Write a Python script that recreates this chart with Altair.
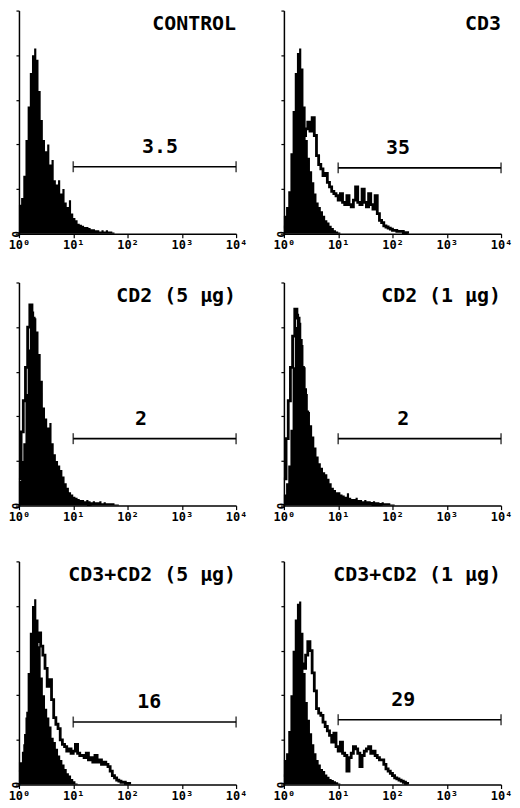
import altair as alt
import pandas as pd

# bin width of the histograms, in decades of fluorescence (log10 units)
BIN = 0.04

titles = ["CONTROL", "CD3", "CD2 (5 μg)", "CD2 (1 μg)", "CD3+CD2 (5 μg)", "CD3+CD2 (1 μg)"]
gate_pct = ["3.5", "35", "2", "2", "16", "29"]
gate_label_u = [2.6, 2.1, 2.25, 2.2, 2.4, 2.2]
gate_level = [30, 29.5, 30, 30, 28, 29]
gate_from = 1
gate_to = 4

# filled (control) histograms, % of full scale, bins starting at log10 = 0
ctrl1 = [13, 16, 26, 42, 57, 72, 80, 83, 78, 64, 51, 42, 37, 40, 31, 33, 24, 22, 24, 18,
         20, 14, 12, 15, 9, 7, 6, 4.5, 4, 3.5, 3, 3, 2.5, 2, 2, 1.5, 1.5, 1, 1.5, 1,
         1.5, 1, 1, 0.5, 0]
ctrl2 = [8, 12, 19, 36, 55, 72, 81, 83, 74, 57, 42, 34, 28, 23, 18, 14, 12, 10, 8, 6,
         5, 3.5, 2.5, 1.5, 1, 0.5, 0]
ctrl3 = [11, 20, 28, 50, 70, 84, 87, 84, 78, 68, 56, 44, 39, 35, 37, 28, 23, 20, 18, 16,
         13, 10, 8, 6, 5, 4, 3.5, 3, 2.5, 2.5, 2, 2.5, 2, 1.5, 2, 1.5, 1.5, 2, 1, 1.5,
         1, 1, 1, 1, 0.5, 0.5, 0]
ctrl4 = [5, 10, 18, 34, 62, 80, 86, 82, 72, 62, 50, 42, 36, 31, 26, 22, 19, 17, 15, 14,
         12, 10, 8, 7, 6, 6, 5, 4.5, 4, 5.5, 3.5, 3, 3, 3.5, 2.5, 2.5, 2, 2.5, 2, 2,
         1.5, 2, 1.5, 1.5, 1, 1.5, 1, 1, 1, 0.5, 0.5, 0]
ctrl5 = [10, 10, 18, 30, 50, 68, 80, 83, 74, 62, 48, 40, 34, 30, 26, 21, 19, 16, 13, 11,
         9, 7, 5, 4, 2.5, 1.5, 0.5, 0]
ctrl6 = [11, 14, 24, 40, 60, 74, 81, 82, 68, 50, 37, 29, 23, 18, 14, 11, 9, 7, 6, 4.5,
         3.5, 2.5, 2, 1.5, 1, 0.5, 0]

# outline (stimulated) histograms
stim2 = [3, 6, 10, 15, 21, 27, 33, 38, 42, 44, 47, 50, 46, 52, 44, 35, 31, 29, 26, 27,
         23, 21, 19, 18, 17, 15, 18, 14, 13, 17, 13, 12, 15, 21, 14, 13, 20, 14, 12, 18,
         13, 11, 17, 9, 6, 5, 3.5, 3, 2.5, 2, 1.5, 1.5, 1, 1, 1, 0.5, 0.5, 0]
stim3 = [12, 33, 47, 62, 80, 90, 84, 72, 60, 50, 40, 34, 30, 26, 22, 18, 15, 12, 10, 8,
         6, 5, 4, 3, 2.5, 2, 2, 1.5, 1.5, 1, 1, 1, 0.5, 0]
stim4 = [12, 30, 47, 62, 76, 88, 84, 74, 62, 52, 42, 34, 28, 23, 19, 16, 13, 11, 9, 8,
         7, 6, 5, 4, 3.5, 3, 3, 2.5, 2, 2, 1.5, 1.5, 1.5, 1, 1, 1, 1, 1, 1, 1,
         1, 0.5, 0.5, 0.5, 0.5, 0]
stim5 = [6, 9, 14, 22, 32, 42, 52, 60, 64, 68, 62, 58, 52, 44, 47, 38, 30, 27, 25, 20,
         18, 17, 15, 16, 14, 15, 18, 14, 13, 13, 12, 14, 11, 12, 10, 13, 10, 11, 9, 10,
         9, 8, 6, 4, 3, 2, 1.5, 1, 1, 0.5, 0.5, 0]
stim6 = [4, 7, 12, 18, 26, 34, 42, 50, 54, 52, 58, 64, 60, 50, 42, 34, 32, 31, 28, 26,
         24, 22, 19, 23, 17, 15, 19, 14, 13, 6, 12, 14, 17, 16, 14, 8, 13, 15, 16, 17,
         14, 15, 13, 12, 11, 11, 9, 7, 6, 5, 4, 3, 2.5, 2, 1.5, 1, 0.5, 0]

ctrl = [ctrl1, ctrl2, ctrl3, ctrl4, ctrl5, ctrl6]
stim = [None, stim2, stim3, stim4, stim5, stim6]

W, H = 218, 224
FONT = "DejaVu Sans Mono"


def hist_frame(vals):
    return pd.DataFrame({"u": [k * BIN for k in range(len(vals))], "v": vals})


def panel(i):
    x = alt.X("u:Q", scale=alt.Scale(domain=[0, 4], nice=False, zero=False),
              axis=alt.Axis(values=[0, 1, 2, 3, 4], title=None, grid=False,
                            labelExpr="'10' + ['⁰','¹','²','³','⁴'][datum.value]",
                            labelFlush=False, tickSize=4, labelPadding=2,
                            labelFontSize=12))
    y = alt.Y("v:Q", scale=alt.Scale(domain=[0, 100], nice=False),
              axis=alt.Axis(values=list(range(0, 101, 10)), title=None, grid=False,
                            labelExpr="datum.value == 0 ? '0' : ''", labelAngle=90,
                            tickSize=3, labelPadding=1, labelBaseline="middle",
                            labelAlign="center", labelFontSize=11))
    layers = [alt.Chart(hist_frame(ctrl[i])).mark_area(
        interpolate="step-after", color="black").encode(x=x, y=y)]
    if stim[i] is not None:
        layers.append(alt.Chart(hist_frame(stim[i])).mark_line(
            interpolate="step-after", color="black", strokeWidth=2.8).encode(x="u:Q", y="v:Q"))
    gate = pd.DataFrame({"u0": [gate_from], "u1": [gate_to], "v": [gate_level[i]],
                         "lab": [gate_pct[i]], "lu": [gate_label_u[i]]})
    caps = pd.DataFrame({"u": [gate_from, gate_to], "v": [gate_level[i]] * 2})
    layers.append(alt.Chart(gate).mark_rule(color="black", strokeWidth=1.6).encode(
        x="u0:Q", x2="u1:Q", y="v:Q"))
    layers.append(alt.Chart(caps).mark_tick(orient="vertical", color="black", size=11,
                                            thickness=1.6).encode(x="u:Q", y="v:Q"))
    layers.append(alt.Chart(gate).mark_text(dy=-14, fontSize=20, font=FONT, color="black",
                                            fontWeight="bold", baseline="alphabetic").encode(
        x="lu:Q", y="v:Q", text="lab:N"))
    layers.append(alt.Chart(pd.DataFrame({"t": [titles[i]]})).mark_text(
        align="right", baseline="alphabetic", fontSize=20, font=FONT, color="black",
        fontWeight="bold").encode(
        x=alt.value(W), y=alt.value(20), text="t:N"))
    return alt.layer(*layers).properties(width=W, height=H)


p = [panel(i) for i in range(6)]
rows = [alt.hconcat(p[0], p[1], spacing=26),
        alt.hconcat(p[2], p[3], spacing=26),
        alt.hconcat(p[4], p[5], spacing=26)]
chart = alt.vconcat(alt.vconcat(rows[0], rows[1], spacing=31), rows[2], spacing=38).properties(
    padding={"left": 0, "top": 0, "right": 0, "bottom": 0}
).configure_view(stroke=None).configure_axis(
    domainColor="black", domainWidth=1.5, tickColor="black", tickWidth=1.2,
    labelFont=FONT, labelFontWeight="bold", labelColor="black"
)

chart.save("out.html", embed_options={"renderer": "svg", "actions": False})
